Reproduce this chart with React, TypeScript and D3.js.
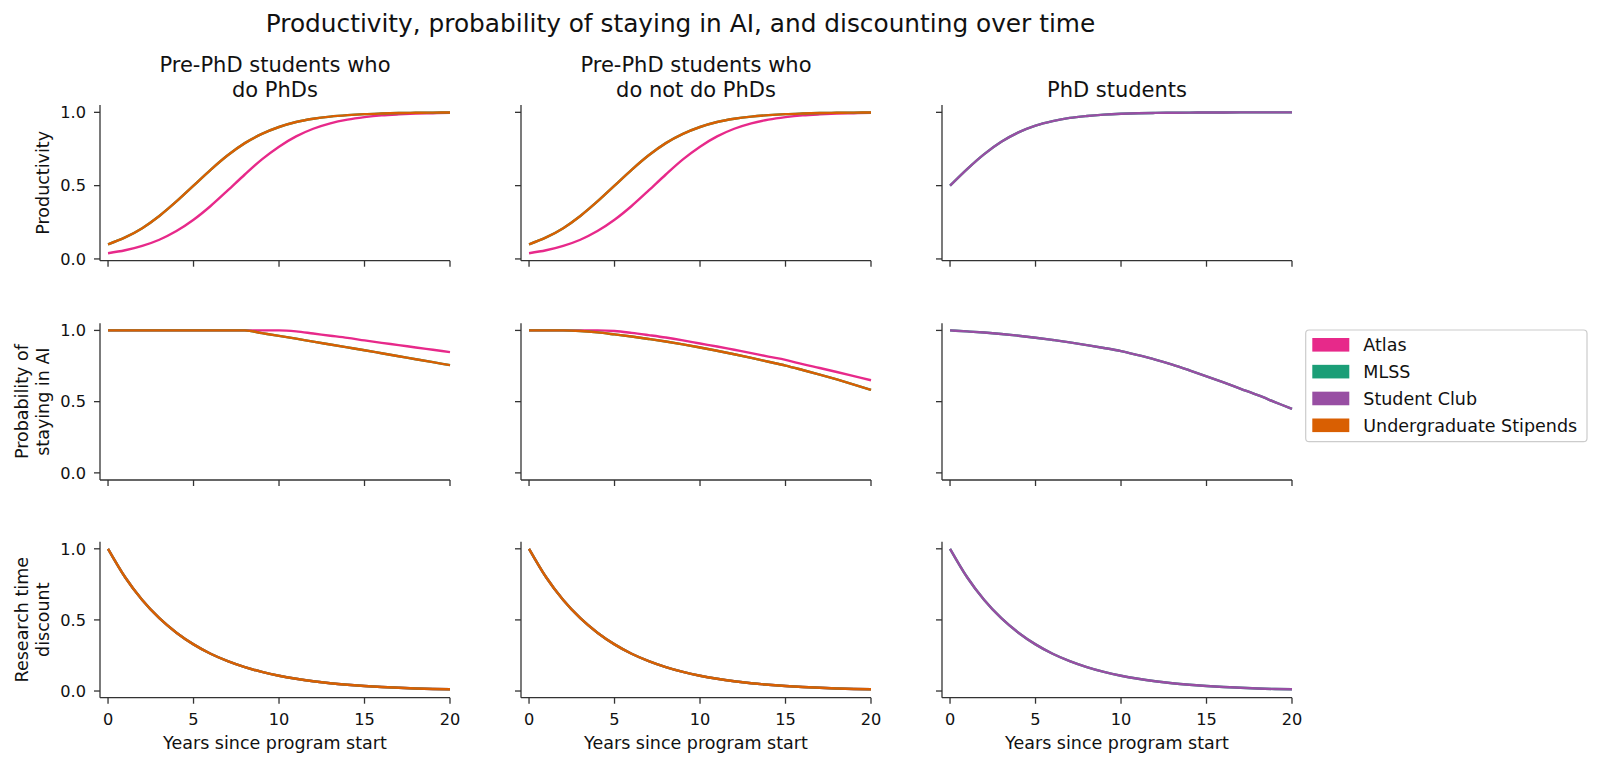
import React, { useEffect } from 'react';
import * as d3 from 'd3';

// years since program start, sampled once a year
const years = [0, 1, 2, 3, 4, 5, 6, 7, 8, 9, 10, 11, 12, 13, 14, 15, 16, 17, 18, 19, 20];

// productivity
const prodAtlas = [0.039, 0.059, 0.089, 0.131, 0.19, 0.267, 0.361, 0.467, 0.576, 0.679, 0.766, 0.836, 0.888, 0.925, 0.95, 0.967, 0.979, 0.986, 0.991, 0.994, 0.996];
const prodUndergrad = [0.1, 0.147, 0.21, 0.293, 0.392, 0.5, 0.608, 0.707, 0.79, 0.853, 0.9, 0.934, 0.956, 0.971, 0.981, 0.988, 0.992, 0.995, 0.997, 0.998, 0.999];
const prodPhd = [0.5, 0.613, 0.715, 0.799, 0.863, 0.909, 0.94, 0.962, 0.975, 0.984, 0.99, 0.994, 0.996, 0.9975, 0.998, 0.999, 0.9993, 0.9996, 0.9998, 0.9999, 1.0];

// probability of staying in AI
const stayDoPhdAtlas = [1, 1, 1, 1, 1, 1, 1, 1, 1, 1, 1, 0.993, 0.978, 0.963, 0.948, 0.93, 0.913, 0.897, 0.88, 0.864, 0.848];
const stayDoPhdUndergrad = [1, 1, 1, 1, 1, 1, 1, 1, 1, 0.981, 0.962, 0.942, 0.921, 0.901, 0.881, 0.861, 0.84, 0.819, 0.798, 0.777, 0.756];
const stayNoPhdAtlas = [1, 1, 1, 1, 1, 0.996, 0.983, 0.967, 0.95, 0.93, 0.908, 0.887, 0.864, 0.841, 0.816, 0.793, 0.763, 0.736, 0.708, 0.679, 0.65];
const stayNoPhdUndergrad = [1, 1, 1, 0.996, 0.986, 0.972, 0.957, 0.94, 0.922, 0.902, 0.88, 0.857, 0.833, 0.807, 0.78, 0.753, 0.722, 0.69, 0.656, 0.62, 0.582];
const stayPhd = [1, 0.993, 0.985, 0.975, 0.963, 0.949, 0.933, 0.916, 0.897, 0.877, 0.855, 0.826, 0.795, 0.76, 0.72, 0.678, 0.635, 0.59, 0.545, 0.497, 0.449];

// research time discount
const discount = [1, 0.8, 0.64, 0.512, 0.41, 0.328, 0.262, 0.21, 0.168, 0.134, 0.107, 0.086, 0.069, 0.055, 0.044, 0.035, 0.028, 0.023, 0.018, 0.014, 0.012];

const programs = ['Atlas', 'MLSS', 'Student Club', 'Undergraduate Stipends'];
const colors: Record<string, string> = {
  Atlas: '#e7298a',
  MLSS: '#1b9e77',
  'Student Club': '#984ea3',
  'Undergraduate Stipends': '#d95f02',
};

const columnTitles = [['Pre-PhD students who', 'do PhDs'], ['Pre-PhD students who', 'do not do PhDs'], ['PhD students']];
const rowLabels = [['Productivity'], ['Probability of', 'staying in AI'], ['Research time', 'discount']];
const xTicks = [0, 5, 10, 15, 20];
const yTicks = [0, 0.5, 1.0];

type Series = { name: string; values: number[] };

// panels[row][col]
const panels: Series[][][] = [
  [
    [{ name: 'Atlas', values: prodAtlas }, { name: 'MLSS', values: prodUndergrad }, { name: 'Undergraduate Stipends', values: prodUndergrad }],
    [{ name: 'Atlas', values: prodAtlas }, { name: 'MLSS', values: prodUndergrad }, { name: 'Undergraduate Stipends', values: prodUndergrad }],
    [{ name: 'MLSS', values: prodPhd }, { name: 'Student Club', values: prodPhd }],
  ],
  [
    [{ name: 'Atlas', values: stayDoPhdAtlas }, { name: 'MLSS', values: stayDoPhdUndergrad }, { name: 'Undergraduate Stipends', values: stayDoPhdUndergrad }],
    [{ name: 'Atlas', values: stayNoPhdAtlas }, { name: 'MLSS', values: stayNoPhdUndergrad }, { name: 'Undergraduate Stipends', values: stayNoPhdUndergrad }],
    [{ name: 'MLSS', values: stayPhd }, { name: 'Student Club', values: stayPhd }],
  ],
  [
    [{ name: 'Atlas', values: discount }, { name: 'MLSS', values: discount }, { name: 'Undergraduate Stipends', values: discount }],
    [{ name: 'Atlas', values: discount }, { name: 'MLSS', values: discount }, { name: 'Undergraduate Stipends', values: discount }],
    [{ name: 'MLSS', values: discount }, { name: 'Student Club', values: discount }],
  ],
];

const W = 1600;
const H = 766;
const font = '"DejaVu Sans", sans-serif';
const colLeft = [100, 521, 942];
const colWidth = 350;
const rowDomains: [number, number][] = [[-0.012, 1.05], [-0.05, 1.05], [-0.047, 1.05]];
const rowRanges: [number, number][] = [[260.7, 105], [480, 323.3], [697.7, 541.7]];
const tickLen = 6;
const axisColor = '#333';
const labelSize = 17.5;

const Panel: React.FC<{ row: number; col: number }> = ({ row, col }) => {
  const x = d3.scaleLinear().domain([-0.47, 20]).range([colLeft[col], colLeft[col] + colWidth]);
  const y = d3.scaleLinear().domain(rowDomains[row]).range(rowRanges[row]);
  const line = d3
    .line<number>()
    .x((_, i) => x(years[i]))
    .y(d => y(d))
    .curve(d3.curveMonotoneX);
  const [y0, y1] = y.range();
  const [x0, x1] = x.range();
  const fmt = d3.format('.1f');
  return (
    <g>
      {panels[row][col].map(s => (
        <path key={s.name} d={line(s.values) || ''} fill="none" stroke={colors[s.name]} strokeWidth={2.4} />
      ))}
      <line x1={x0} x2={x0} y1={y0} y2={y1} stroke={axisColor} strokeWidth={1.3} />
      <line x1={x0} x2={x1} y1={y0} y2={y0} stroke={axisColor} strokeWidth={1.3} />
      {xTicks.map(t => (
        <g key={'x' + t}>
          <line x1={x(t)} x2={x(t)} y1={y0} y2={y0 + tickLen} stroke={axisColor} strokeWidth={1.3} />
          {row === 2 && (
            <text x={x(t)} y={y0 + 27} textAnchor="middle" fontSize={16.2} fill="#111">
              {t}
            </text>
          )}
        </g>
      ))}
      {yTicks.map(t => (
        <g key={'y' + t}>
          <line x1={x0 - tickLen} x2={x0} y1={y(t)} y2={y(t)} stroke={axisColor} strokeWidth={1.3} />
          {col === 0 && (
            <text x={x0 - 14} y={y(t)} dy="0.36em" textAnchor="end" fontSize={16.2} fill="#111">
              {fmt(t)}
            </text>
          )}
        </g>
      ))}
      {row === 0 &&
        columnTitles[col].map((t, i, arr) => (
          <text key={t} x={(x0 + x1) / 2} y={96.7 - (arr.length - 1 - i) * 25} textAnchor="middle" fontSize={21} fill="#111">
            {t}
          </text>
        ))}
      {row === 2 && (
        <text x={(x0 + x1) / 2} y={749} textAnchor="middle" fontSize={labelSize} fill="#111">
          Years since program start
        </text>
      )}
      {col === 0 &&
        rowLabels[row].map((t, i, arr) => {
          const cy = (y0 + y1) / 2;
          const bx = 48.5 - (arr.length - 1 - i) * 21;
          return (
            <text key={t} transform={`translate(${bx},${cy}) rotate(-90)`} textAnchor="middle" fontSize={labelSize} fill="#111">
              {t}
            </text>
          );
        })}
    </g>
  );
};

const Legend: React.FC = () => {
  const left = 1305.7;
  const top = 330;
  const rowY = d3.scaleLinear().domain([0, 3]).range([344.8, 425.3]);
  return (
    <g>
      <rect x={left} y={top} width={281.3} height={111.7} rx={3.5} fill="#fff" stroke="#cccccc" strokeWidth={1.2} />
      {programs.map((p, i) => (
        <g key={p}>
          <rect x={1312.3} y={rowY(i) - 6.8} width={37} height={13.6} fill={colors[p]} />
          <text x={1363.3} y={rowY(i)} dy="0.36em" fontSize={labelSize} fill="#111">
            {p}
          </text>
        </g>
      ))}
    </g>
  );
};

export default function App() {
  useEffect(() => {
    document.body.style.margin = '0';
  }, []);
  const rows = [0, 1, 2];
  const cols = [0, 1, 2];
  return (
    <svg width={W} height={H} style={{ display: 'block', background: '#fff', fontFamily: font }}>
      <text x={680.5} y={32} textAnchor="middle" fontSize={24.8} fill="#111">
        Productivity, probability of staying in AI, and discounting over time
      </text>
      {rows.map(r => cols.map(c => <Panel key={`${r}-${c}`} row={r} col={c} />))}
      <Legend />
    </svg>
  );
}
